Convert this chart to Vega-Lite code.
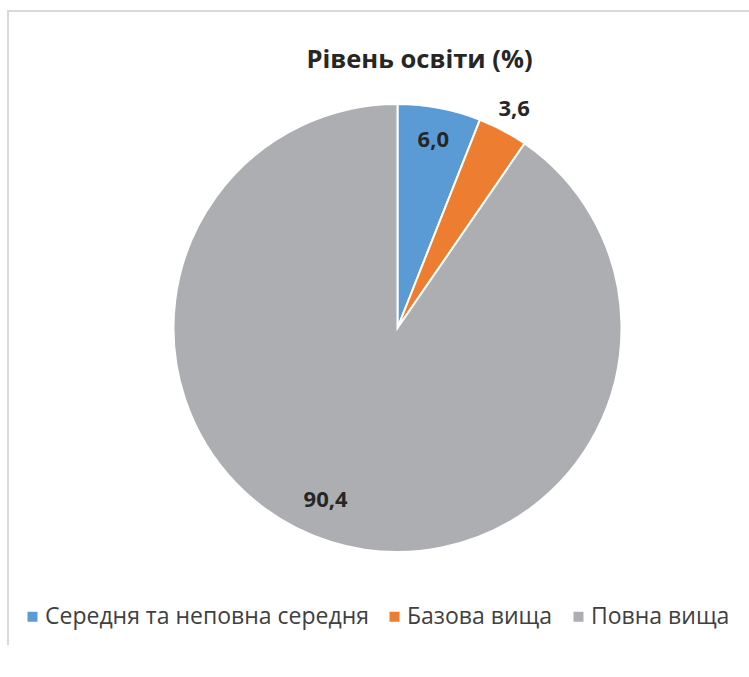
{
  "$schema": "https://vega.github.io/schema/vega-lite/v6.json",
  "width": 779,
  "height": 634,
  "autosize": {"type": "none"},
  "padding": {"left": 8, "top": 11, "right": 0, "bottom": 40},
  "background": "white",
  "view": {"stroke": "#d9d9d9", "strokeWidth": 2, "fill": null, "strokeDash": [779, 1413, 634]},
  "config": {
    "view": {"stroke": "#d9d9d9", "strokeWidth": 2},
    "font": "Open Sans",
    "locale": {"number": {"decimal": ",", "thousands": " ", "grouping": [3], "currency": ["", " грн"]}}
  },
  "title": {
    "text": "Рівень освіти (%)",
    "font": "Open Sans",
    "fontSize": 25.5,
    "fontWeight": "bold",
    "color": "#262626",
    "anchor": "middle",
    "dx": 22,
    "offset": -74,
    "baseline": "middle"
  },
  "data": {
    "values": [
      {"category": "Середня та неповна середня", "value": 6.0, "idx": 1},
      {"category": "Базова вища", "value": 3.6, "idx": 2},
      {"category": "Повна вища", "value": 90.4, "idx": 3}
    ]
  },
  "layer": [
    {
      "mark": {"type": "arc", "outerRadius": 224, "stroke": "white", "strokeWidth": 2},
      "encoding": {
        "theta": {"field": "value", "type": "quantitative", "stack": true},
        "order": {"field": "idx", "type": "quantitative"},
        "color": {
          "field": "category",
          "type": "nominal",
          "sort": ["Середня та неповна середня", "Базова вища", "Повна вища"],
          "scale": {
            "domain": ["Середня та неповна середня", "Базова вища", "Повна вища"],
            "range": ["#5b9bd5", "#ed7d31", "#adaeb2"]
          },
          "legend": {
            "orient": "none",
            "legendX": 13,
            "legendY": 594,
            "direction": "horizontal",
            "columns": 3,
            "title": null,
            "symbolType": "square",
            "symbolSize": 100,
            "symbolStrokeWidth": 0,
            "labelFont": "Open Sans",
            "labelFontSize": 23,
            "labelColor": "#404040",
            "labelOffset": 1,
            "columnPadding": 14,
            "padding": 0,
            "labelLimit": 500
          }
        }
      }
    },
    {
      "mark": {
        "type": "text",
        "font": "Open Sans",
        "fontSize": 22,
        "fontWeight": "bold",
        "color": "#262626",
        "align": "center",
        "baseline": "middle",
        "radius": {"expr": "datum.value < 5 ? 248 : datum.value > 50 ? 185 : 191"},
        "dx": {"expr": "datum.value > 50 ? -17 : 0"},
        "dy": {"expr": "datum.value > 50 ? -5 : 0"}
      },
      "encoding": {
        "theta": {"field": "value", "type": "quantitative", "stack": true},
        "order": {"field": "idx", "type": "quantitative"},
        "text": {"field": "value", "type": "quantitative", "format": ".1f"}
      }
    }
  ]
}
